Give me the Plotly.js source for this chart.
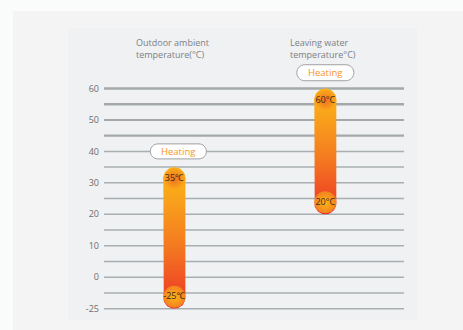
<!DOCTYPE html>
<html>
<head>
<meta charset="utf-8">
<script src="https://cdn.plot.ly/plotly-3.0.1.min.js"></script>
<style>html,body{margin:0;padding:0;background:#fafbfb;}#chart{width:463px;height:330px;}</style>
</head>
<body>
<div id="chart"></div>
<script>
// ---- data ----
var categories = ['Outdoor ambient temperature', 'Leaving water temperature'];
var headerLine1 = ['Outdoor ambient', 'Leaving water'];
var headerLine2 = ['temperature(°C)', 'temperature°C)'];
var modeLabels = ['Heating', 'Heating'];
var modeLevels = [40, 65];            // where the "Heating" pill sits on the scale
var lowValues = [-25, 20];
var highValues = [35, 60];
var lowLabels = ['-25℃', '20°C'];
var highLabels = ['35℃', '60°C'];
var tickValues = [-25, 0, 10, 20, 30, 40, 50, 60];
var tickLabels = ['-25', '0', '10', '20', '30', '40', '50', '60'];

// broken scale: negative part compressed (-25 sits one step below 0)
function axisPos(v) { return v < 0 ? v * 0.4 : v; }

// ---- geometry / styles ----
var W = 463, H = 330;
var M = {l: 104, r: 59, t: 57, b: 15};
var xRange = [-0.466, 1.521];
var yRange = [-12, 70];
var plotW = W - M.l - M.r, plotH = H - M.t - M.b;
var pxX = plotW / (xRange[1] - xRange[0]);
var pxY = plotH / (yRange[1] - yRange[0]);
var halfBarPx = 11, capOffsetPx = 12;
var hw = halfBarPx / pxX, ry = halfBarPx / pxY, cy = capOffsetPx / pxY;
var FONT = 'Open Sans, Noto Sans, sans-serif';

var traces = [];
categories.forEach(function (c, i) {
  var yb = axisPos(lowValues[i]), yt = axisPos(highValues[i]);
  var xs = [], ys = [], n = 24, k, th;
  for (k = 0; k <= n; k++) { th = Math.PI * k / n; xs.push(i + hw * Math.cos(th)); ys.push(yt - ry + ry * Math.sin(th)); }
  for (k = 0; k <= n; k++) { th = Math.PI + Math.PI * k / n; xs.push(i + hw * Math.cos(th)); ys.push(yb + ry + ry * Math.sin(th)); }
  traces.push({
    type: 'scatter', x: xs, y: ys, mode: 'lines', fill: 'toself',
    line: {width: 0, color: 'rgba(0,0,0,0)'},
    fillgradient: {type: 'vertical', colorscale: [[0, '#e8222a'], [0.12, '#ef4524'], [0.45, '#f47b20'], [0.8, '#f9a51b'], [1, '#fcb316']]},
    hoverinfo: 'skip', showlegend: false
  });
  // top cap circle
  traces.push({
    type: 'scatter', x: [i], y: [yt - cy], mode: 'markers+text', text: [highLabels[i]],
    textposition: 'middle center', textfont: {family: FONT, size: 9, color: '#3a2a1c'},
    marker: {size: 22, color: '#fbaa19', line: {width: 0}, gradient: {type: 'radial', color: '#ef6f22'}},
    hoverinfo: 'skip', showlegend: false, cliponaxis: false
  });
  // bottom cap circle
  traces.push({
    type: 'scatter', x: [i], y: [yb + cy], mode: 'markers+text', text: [lowLabels[i]],
    textposition: 'middle center', textfont: {family: FONT, size: 9, color: '#3a2a1c'},
    marker: {size: 22, color: '#f48220', line: {width: 0}, gradient: {type: 'radial', color: '#fbb517'}},
    hoverinfo: 'skip', showlegend: false, cliponaxis: false
  });
});

function pillPath(w, h, dx) {
  var r = h / 2, kk = 0.5523 * r, xl = dx - w / 2 + r, xr = dx + w / 2 - r;
  return 'M' + xl + ',' + (-r) + ' L' + xr + ',' + (-r) +
    ' C' + (xr + kk) + ',' + (-r) + ' ' + (xr + r) + ',' + (-kk) + ' ' + (xr + r) + ',0' +
    ' C' + (xr + r) + ',' + kk + ' ' + (xr + kk) + ',' + r + ' ' + xr + ',' + r +
    ' L' + xl + ',' + r +
    ' C' + (xl - kk) + ',' + r + ' ' + (xl - r) + ',' + kk + ' ' + (xl - r) + ',0' +
    ' C' + (xl - r) + ',' + (-kk) + ' ' + (xl - kk) + ',' + (-r) + ' ' + xl + ',' + (-r) + ' Z';
}

var shapes = [];
// outer light-grey card and inner panel
shapes.push({type: 'rect', layer: 'below', xref: 'paper', yref: 'paper',
  x0: (13 - M.l) / plotW, x1: (W + 5 - M.l) / plotW, y0: (M.b - H - 5) / plotH, y1: (H - M.b - 11) / plotH,
  fillcolor: '#f4f4f4', line: {width: 0}});
shapes.push({type: 'rect', layer: 'below', xref: 'paper', yref: 'paper',
  x0: (68 - M.l) / plotW, x1: (417 - M.l) / plotW, y0: (H - M.b - 320) / plotH, y1: (H - M.b - 28) / plotH,
  fillcolor: '#eff1f3', line: {width: 0}});
// grid lines every 5 units of the (broken) scale
for (var g = -10; g <= 60; g += 5) {
  var wdt = g >= 55 ? 2.6 : (g >= 45 ? 2.1 : 1.5);
  shapes.push({type: 'line', layer: 'below', xref: 'paper', yref: 'y', x0: 0, x1: 1, y0: g, y1: g,
    line: {color: g >= 45 ? '#a3a9ab' : '#a9afb1', width: wdt}});
}
var pillDx = [4, 0], pillW = [56, 57], pillH = [15, 16];
var annotations = [];
categories.forEach(function (c, i) {
  shapes.push({type: 'path', xref: 'x', yref: 'y', xsizemode: 'pixel', ysizemode: 'pixel',
    xanchor: i, yanchor: modeLevels[i], path: pillPath(pillW[i], pillH[i], pillDx[i]),
    fillcolor: '#ffffff', line: {color: '#a0a0a0', width: 1}});
  annotations.push({xref: 'x', yref: 'y', x: i, y: modeLevels[i], xshift: pillDx[i], text: modeLabels[i],
    showarrow: false, font: {family: FONT, size: 9.5, color: '#f7931e'}});
  annotations.push({xref: 'x', yref: 'paper', x: i, xshift: [-39, -36][i], xanchor: 'left', yanchor: 'middle',
    align: 'left', y: (H - M.b - 48.8) / plotH, text: headerLine1[i] + '<br>' + headerLine2[i],
    showarrow: false, borderpad: 0, font: {family: FONT, size: 9, color: '#7d8085'}});
});

var layout = {
  width: W, height: H, margin: M,
  paper_bgcolor: '#fafbfb', plot_bgcolor: 'rgba(0,0,0,0)',
  showlegend: false,
  xaxis: {range: xRange, showgrid: false, zeroline: false, showticklabels: false, showline: false, fixedrange: true},
  yaxis: {range: yRange, showgrid: false, zeroline: false, showline: false, ticks: '',
    tickvals: tickValues.map(axisPos), ticktext: tickLabels, ticklabelstandoff: 4,
    tickfont: {family: FONT, size: 9, color: '#6e6e6e'}, fixedrange: true},
  shapes: shapes, annotations: annotations
};
Plotly.newPlot('chart', traces, layout, {staticPlot: true, displayModeBar: false});
</script>
</body>
</html>
